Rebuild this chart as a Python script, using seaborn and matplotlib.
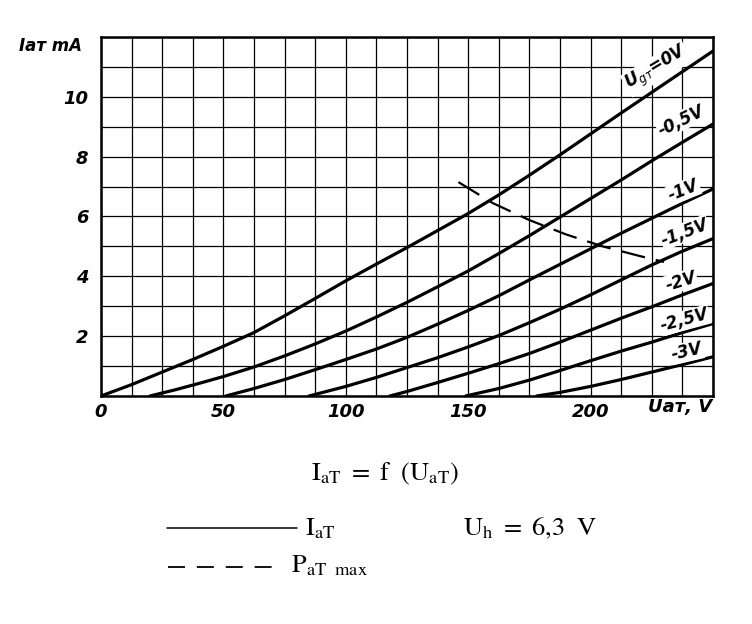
import numpy as np
import pandas as pd
import matplotlib
matplotlib.use("Agg")
import matplotlib.pyplot as plt
import seaborn as sns
from matplotlib.lines import Line2D

# Anode characteristics I_aT = f(U_aT), one curve per grid voltage
ug_names = ["0", "-0.5", "-1", "-1.5", "-2", "-2.5", "-3"]

v_0 = [0, 12.5, 25, 37.5, 50, 62.5, 75, 87.5, 100, 112.5, 125, 137.5, 150, 162.5, 175, 187.5, 200, 212.5, 225, 237.5, 250]
i_0 = [0, 0.38, 0.8, 1.22, 1.66, 2.12, 2.68, 3.26, 3.85, 4.41, 4.96, 5.53, 6.1, 6.72, 7.38, 8.06, 8.76, 9.46, 10.15, 10.84, 11.53]

v_05 = [20, 30, 40, 50, 62.5, 75, 87.5, 100, 112.5, 125, 137.5, 150, 162.5, 175, 187.5, 200, 212.5, 225, 237.5, 250]
i_05 = [0, 0.2, 0.42, 0.65, 0.97, 1.34, 1.74, 2.17, 2.64, 3.13, 3.65, 4.18, 4.76, 5.36, 5.98, 6.6, 7.22, 7.86, 8.48, 9.09]

v_1 = [51, 62.5, 75, 87.5, 100, 112.5, 125, 137.5, 150, 162.5, 175, 187.5, 200, 212.5, 225, 237.5, 250]
i_1 = [0, 0.25, 0.55, 0.88, 1.22, 1.57, 1.96, 2.4, 2.86, 3.35, 3.88, 4.4, 4.92, 5.44, 5.94, 6.44, 6.92]

v_15 = [85, 100, 112.5, 125, 137.5, 150, 162.5, 175, 187.5, 200, 212.5, 225, 237.5, 250]
i_15 = [0, 0.32, 0.62, 0.95, 1.28, 1.64, 2.02, 2.45, 2.9, 3.38, 3.88, 4.38, 4.84, 5.26]

v_2 = [118, 125, 137.5, 150, 162.5, 175, 187.5, 200, 212.5, 225, 237.5, 250]
i_2 = [0, 0.15, 0.45, 0.76, 1.08, 1.42, 1.8, 2.2, 2.6, 2.98, 3.38, 3.76]

v_25 = [149, 162.5, 175, 187.5, 200, 212.5, 225, 237.5, 250]
i_25 = [0, 0.25, 0.53, 0.85, 1.18, 1.5, 1.8, 2.12, 2.42]

v_3 = [178, 187.5, 200, 212.5, 225, 237.5, 250]
i_3 = [0, 0.12, 0.32, 0.55, 0.8, 1.05, 1.31]

# maximum anode dissipation P_aT max
p_v = [146, 160, 175, 190, 205, 220, 230]
p_i = [7.15, 6.45, 5.88, 5.4, 5.0, 4.68, 4.48]

curve_labels = ["U$_{gт}$=0V", "-0,5V", "-1V", "-1,5V", "-2V", "-2,5V", "-3V"]
x_ticks = [0, 50, 100, 150, 200]
y_ticks = [2, 4, 6, 8, 10]

curves = [(v_0, i_0), (v_05, i_05), (v_1, i_1), (v_15, i_15), (v_2, i_2), (v_25, i_25), (v_3, i_3)]
df = pd.concat([pd.DataFrame({"V": v, "I": i, "Ug": n}) for n, (v, i) in zip(ug_names, curves)])

sns.set_style("white")
plt.rcParams["font.family"] = ["Liberation Sans Narrow", "DejaVu Sans"]
plt.rcParams["mathtext.fontset"] = "stix"
plt.rcParams["text.color"] = "black"
plt.rcParams["xtick.color"] = "black"
plt.rcParams["ytick.color"] = "black"

fig = plt.figure(figsize=(7.52, 6.24), dpi=100)
ax = fig.add_axes([0.1343, 0.3654, 0.8138, 0.5753])

sns.lineplot(data=df, x="V", y="I", units="Ug", estimator=None, sort=False,
             color="black", lw=2.3, ax=ax, zorder=3)
sns.lineplot(x=p_v, y=p_i, color="black", lw=1.6, linestyle=(0, (11, 5)), ax=ax, zorder=3)

ax.set_xlim(0, 250)
ax.set_ylim(0, 12)
ax.set_xticks(x_ticks)
ax.set_yticks(y_ticks)
ax.set_xticks(np.arange(0, 251, 12.5), minor=True)
ax.set_yticks(np.arange(0, 13, 1), minor=True)
ax.grid(which="both", color="black", lw=0.9)
ax.set_axisbelow(True)
ax.tick_params(which="both", length=0)
ax.tick_params(axis="x", pad=5)
ax.tick_params(axis="y", pad=9)
for t in ax.get_xticklabels() + ax.get_yticklabels():
    t.set_fontstyle("italic")
    t.set_fontweight("bold")
    t.set_fontsize(13)
    t.set_color("black")
ax.set_xlabel("")
ax.set_ylabel("")
for s in ax.spines.values():
    s.set_color("black")
    s.set_linewidth(1.8)

# curve labels (white boxes cut the grid like in the drawing)
lab_pos = [(227, 10.95, 31), (237, 9.2, 26), (238, 6.87, 22), (238.5, 5.47, 21),
           (237, 3.83, 17), (238.5, 2.53, 15), (239.3, 1.47, 13)]
for txt, (x, y, r) in zip(curve_labels, lab_pos):
    ax.text(x, y, txt, rotation=r, ha="center", va="center", fontsize=12,
            fontstyle="italic", fontweight="bold", math_fontfamily="dejavusans",
            bbox=dict(fc="white", ec="none", pad=0.6), zorder=4)

# axis names
fig.text(82 / 752, 1 - 46 / 624, "Iaт mA", ha="right", va="center", fontsize=12,
         fontstyle="italic", fontweight="bold")
fig.text(712 / 752, 1 - 407 / 624, "Uaт, V", ha="right", va="center", fontsize=13,
         fontstyle="italic", fontweight="bold")

# caption and legend
fig.text(385 / 752, 1 - 474 / 624, r"$\mathrm{I_{aT}\ =\ f\ \ (U_{aT})}$", ha="center", va="center", fontsize=19)
fig.add_artist(Line2D([167 / 752, 297 / 752], [1 - 528 / 624] * 2, color="black", lw=1.1))
fig.text(305 / 752, 1 - 528 / 624, r"$\mathrm{I_{aT}}$", ha="left", va="center", fontsize=19)
fig.text(463 / 752, 1 - 528 / 624, r"$\mathrm{U_h\ =\ 6{,}3\ \ V}$", ha="left", va="center", fontsize=19)
fig.add_artist(Line2D([168 / 752, 273 / 752], [1 - 567 / 624] * 2, color="black", lw=1.3,
                      linestyle=(0, (9.4, 6.6))))
fig.text(291 / 752, 1 - 565 / 624, r"$\mathrm{P_{aT\ \ max}}$", ha="left", va="center", fontsize=19)

fig.savefig("out.png", dpi=100, facecolor="white")
